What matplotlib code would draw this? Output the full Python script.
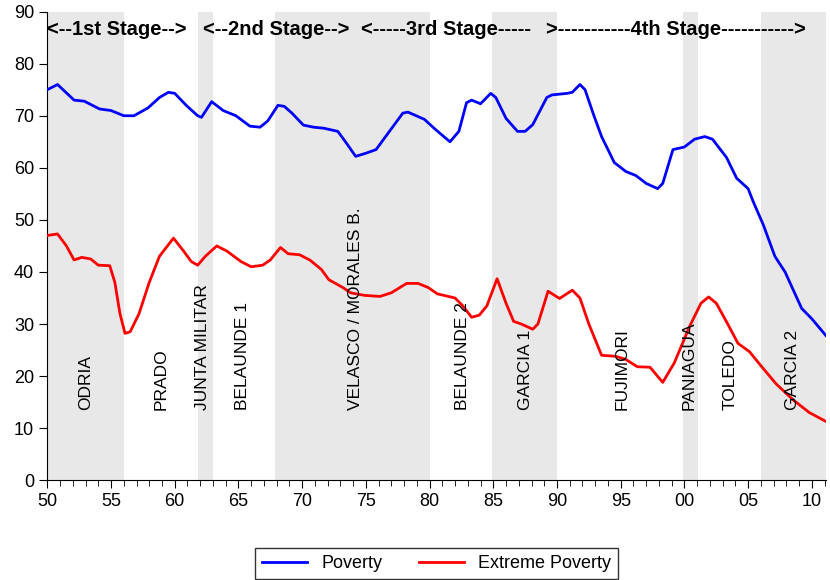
import matplotlib
matplotlib.use("Agg")
import matplotlib.pyplot as plt
from matplotlib.ticker import MultipleLocator

plt.rcParams['font.family'] = ['Liberation Sans', 'DejaVu Sans']

pov_years = [1950,50.8,52.1,52.9,54.1,55,56,56.8,57.9,58.8,59.5,60,60.9,61.8,62.1,62.9,63.8,64.8,65.9,66.7,67.3,68.1,68.6,69.2,70.1,70.9,71.7,72.8,73.4,74.2,75.0,75.8,76.7,77.9,78.3,79.6,80.4,81.6,82.3,82.9,83.3,84,84.8,85.2,86.0,86.9,87.5,88.1,89.2,89.6,90.8,91.2,91.8,92.2,92.9,93.5,94.5,95.4,96.2,97.0,97.9,98.3,99.1,100.0,100.8,101.6,102.2,103.3,104.1,105,105.4,106.2,107.1,107.9,109.2,110,111.1]
pov_vals = [75,76,73,72.8,71.3,71,70,70,71.5,73.5,74.5,74.3,72,70,69.7,72.7,71,70,68,67.8,69,72,71.8,70.5,68.2,67.8,67.6,67,65,62.2,62.8,63.5,66.5,70.5,70.7,69.3,67.5,65,67,72.5,73,72.3,74.3,73.5,69.5,67,67,68.3,73.5,74.0,74.3,74.5,76,75,70,66,61,59.3,58.5,57,56,57,63.5,64,65.5,66,65.5,62,58,56,53.5,49,43,40,33,31,27.8]
ext_years = [1950,50.8,51.5,52.1,52.7,53.4,54,54.9,55.3,55.7,56.1,56.5,57.2,58,58.8,59.9,60.7,61.3,61.8,62.4,63.3,64.1,65.2,66,66.9,67.5,68.3,68.9,69.8,70.6,71.5,72.1,73.2,73.8,74.9,76.1,77,78.2,79.1,79.9,80.6,82,82.6,83.3,83.9,84.5,85.3,86,86.6,87.2,88.1,88.5,89.3,90.2,91.2,91.8,92.5,93.5,94.6,95.4,96.3,97.3,98.3,99.2,100.4,101.3,101.9,102.5,103.4,104.2,105.1,106,107.2,108.5,109.8,111.1]
ext_vals = [47,47.3,45,42.3,42.8,42.5,41.3,41.2,38,32,28.2,28.5,32,38,43,46.5,44,42,41.3,43,45,44,42,41,41.3,42.3,44.7,43.5,43.3,42.3,40.5,38.5,37,36,35.5,35.3,36,37.8,37.8,37,35.8,35,33.5,31.3,31.7,33.5,38.7,34,30.5,30,29,30,36.3,34.9,36.5,35,30,24,23.8,23.2,21.8,21.7,18.8,22.5,29.5,34,35.2,34,30,26.3,24.7,22,18.5,15.5,13,11.3]
pov_years = [y if y > 1000 else 1900 + y for y in pov_years]
ext_years = [y if y > 1000 else 1900 + y for y in ext_years]

shades = [(1950,1956),(1961.8,1963),(1967.9,1980),(1984.9,1990),(1999.9,2001.1),(2006,2011.1)]
presidents = ["ODRIA","PRADO","JUNTA MILITAR","BELAUNDE 1","VELASCO / MORALES B.","BELAUNDE 2","GARCIA 1","FUJIMORI","PANIAGUA","TOLEDO","GARCIA 2"]
pres_x = [1953,1958.9,1962.2,1965.3,1974.2,1982.6,1987.5,1995.1,2000.4,2003.6,2008.5]
stages = ["<--1st Stage-->","<--2nd Stage-->","<-----3rd Stage-----",">-----------4th Stage----------->"]
stage_x = [1950,1962.2,1974.6,1989.1]
tick_years = list(range(1950,2011,5))
tick_labels = [f"{y%100:02d}" for y in tick_years]

fig = plt.figure(figsize=(8.3,5.8), dpi=100)
ax = fig.add_axes([0.057,0.172,0.938,0.808])
for a,b in shades:
    ax.axvspan(a,b,color='#e8e8e8',lw=0,zorder=0)
ax.plot(pov_years,pov_vals,color='#0000ff',lw=2,label='Poverty',zorder=3)
ax.plot(ext_years,ext_vals,color='#ff0000',lw=2,label='Extreme Poverty',zorder=3)
for t,x in zip(presidents,pres_x):
    ax.text(x,13.5,t,rotation=90,ha='center',va='bottom',fontsize=12.5,zorder=4)
for t,x in zip(stages,stage_x):
    ax.text(x,86.5,t,ha='left',va='center',fontsize=14.5,fontweight='bold',zorder=4)
ax.set_xlim(1950,2011.1)
ax.set_ylim(0,90)
ax.set_xticks(tick_years)
ax.set_xticklabels(tick_labels)
ax.xaxis.set_minor_locator(MultipleLocator(1))
ax.yaxis.set_major_locator(MultipleLocator(10))
ax.tick_params(direction='out',labelsize=13,length=6)
ax.tick_params(axis='x',which='minor',length=4)
for s in ['top','right']:
    ax.spines[s].set_visible(False)
ax.legend(loc='upper center',bbox_to_anchor=(0.5,-0.125),ncol=2,fontsize=13,
          frameon=True,fancybox=False,edgecolor='black',handlelength=2.5)
fig.savefig('out.png')
